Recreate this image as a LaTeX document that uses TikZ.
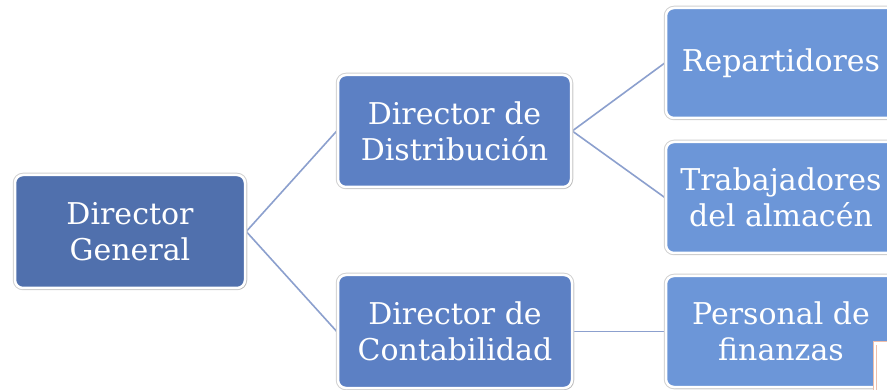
\documentclass[tikz,border=0pt]{standalone}
\usepackage{fontspec}
\newfontfamily\boxfont{DejaVu Serif}
\usetikzlibrary{shadows,backgrounds}
\definecolor{lvA}{RGB}{80,112,173}
\definecolor{lvB}{RGB}{92,128,196}
\definecolor{lvC}{RGB}{108,150,216}
\definecolor{linkc}{RGB}{140,160,206}
\definecolor{artc}{RGB}{238,190,170}
\tikzset{
  orgbox/.style={draw=white, line width=2.5pt, rounded corners=8pt,
    align=center, inner sep=0pt, text=white,
    font=\boxfont\fontsize{30}{36}\selectfont,
    preaction={draw=black!18, line width=4.5pt},
    drop shadow={shadow xshift=1.5pt, shadow yshift=-1.5pt, opacity=0.3, fill=black!50}},
  link/.style={draw=linkc, line width=1.6pt}
}
\begin{document}
\begin{tikzpicture}[x=1pt,y=-1pt]
\clip (0,0) rectangle (887,390);
\node[orgbox, fill=lvA, minimum width=230pt, minimum height=113pt] (dg) at (130,231.5) {Director\\General};
\node[orgbox, fill=lvB, minimum width=233pt, minimum height=112pt] (dd) at (454.5,131) {Director de\\Distribución};
\node[orgbox, fill=lvB, minimum width=234pt, minimum height=113pt] (dc) at (455,331.5) {Director de\\Contabilidad};
\node[orgbox, fill=lvC, minimum width=230pt, minimum height=110pt] (rp) at (781,63) {Repartidores};
\node[orgbox, fill=lvC, minimum width=230pt, minimum height=111pt] (tr) at (781,197.5) {Trabajadores\\del almacén};
\node[orgbox, fill=lvC, minimum width=230pt, minimum height=111pt] (pf) at (781,331.5) {Personal de\\finanzas};
\begin{pgfonlayer}{background}
\fill[white] (0,0) rectangle (887,390);
\draw[link] (dg.east) -- (dd.west);
\draw[link] (dg.east) -- (dc.west);
\draw[link] (dd.east) -- (rp.west);
\draw[link] (dd.east) -- (tr.west);
\draw[link] (dc.east) -- (pf.west);
\end{pgfonlayer}
\fill[white] (873,342) rectangle (890,392);
\draw[artc, line width=1pt] (873,392) -- (873,342) -- (890,342);
\draw[artc, line width=1pt] (876.5,392) -- (876.5,345);
\end{tikzpicture}
\end{document}
